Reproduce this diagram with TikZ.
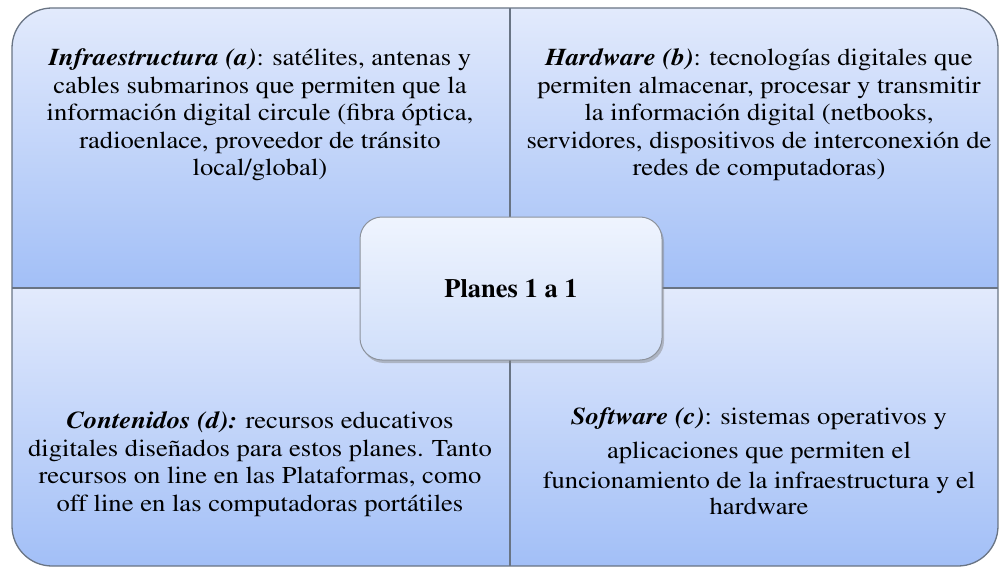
\documentclass[tikz,border=0pt]{standalone}
\usepackage[T1]{fontenc}
\renewcommand{\rmdefault}{ptm}
\usepackage{graphicx}
\usepackage{tikz}
\usetikzlibrary{shadows}
\definecolor{qtop}{RGB}{226,234,252}
\definecolor{qbot}{RGB}{162,191,247}
\definecolor{htop}{RGB}{239,244,254}
\definecolor{hbot}{RGB}{208,223,250}
\definecolor{qline}{RGB}{105,116,132}
\definecolor{hline}{RGB}{140,146,156}
\newcommand{\term}[1]{\textbf{\textit{#1}}}
\newcommand{\widelines}[1]{\scalebox{1.1}[1]{\begin{tabular}{@{}c@{}}#1\end{tabular}}}
\tikzset{
  quad/.style={top color=qtop,bottom color=qbot},
  frame/.style={draw=qline,line width=1.3pt},
  blurb/.style={inner sep=0pt,anchor=north,
                font=\fontsize{24.2}{27.5}\selectfont},
  hub/.style={rectangle,rounded corners=22pt,draw=hline,line width=1pt,
              top color=htop,bottom color=hbot,
              minimum width=302pt,minimum height=143pt,
              font=\fontsize{26.5}{30}\selectfont\bfseries,
              drop shadow={shadow xshift=2pt,shadow yshift=-3pt,opacity=0.45}},
}
\begin{document}
\begin{tikzpicture}[x=1pt,y=-1pt]
  \useasboundingbox (0,0) rectangle (999,567);
  % four quadrants inside the rounded outline
  \begin{scope}
    \clip[rounded corners=40pt] (12,8) rectangle (998,566);
    \shade[quad] (12,8) rectangle (510,288);
    \shade[quad] (510,8) rectangle (998,288);
    \shade[quad] (12,288) rectangle (510,566);
    \shade[quad] (510,288) rectangle (998,566);
  \end{scope}
  \draw[frame,rounded corners=40pt] (12,8) rectangle (998,566);
  \draw[frame] (510,8) -- (510,566);
  \draw[frame] (12,288) -- (998,288);
  % texts
  \node[blurb] (infra) at (260,46.5) {\widelines{%
     \term{Infraestructura (a)}: satélites, antenas y\\
     cables submarinos que permiten que la\\
     información digital circule (fibra óptica,\\
     radioenlace, proveedor de tránsito\\
     local/global)}};
  \node[blurb] (hard) at (759,46.5) {\widelines{%
     \term{Hardware (b)}: tecnologías digitales que\\
     permiten almacenar, procesar y transmitir\\
     la información digital (netbooks,\\
     servidores, dispositivos de interconexión de\\
     redes de computadoras)}};
  \node[blurb] (cont) at (260,409.5) {\widelines{%
     \term{Contenidos (d):} recursos educativos\\
     digitales diseñados para estos planes. Tanto\\
     recursos on line en las Plataformas, como\\
     off line en las computadoras portátiles}};
  \node[blurb] (soft) at (759,405.5) {\widelines{%
     \term{Software (c)}: sistemas operativos y\\[6.5pt]
     aplicaciones que permiten el\\[2.5pt]
     funcionamiento de la infraestructura y el\\[-1.5pt]
     hardware}};
  \node[hub] (plan) at (511,288.5) {Planes 1 a 1};
\end{tikzpicture}
\end{document}
